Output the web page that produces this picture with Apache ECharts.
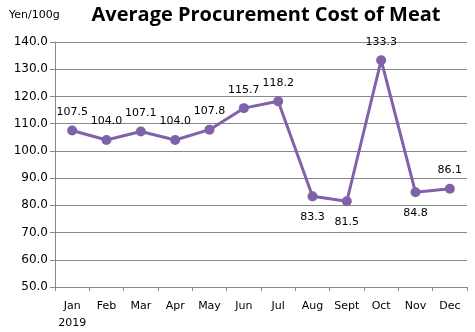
<!DOCTYPE html>
<html><head><meta charset="utf-8">
<script src="https://cdn.jsdelivr.net/npm/echarts@6/dist/echarts.min.js"></script>
<style>html,body{margin:0;padding:0;background:#fff}#c{width:475px;height:332px}</style>
</head><body><div id="c"></div>
<script>
const categories = ['Jan\n2019','Feb','Mar','Apr','May','Jun','Jul','Aug','Sept','Oct','Nov','Dec'];
const values = [107.5,104.0,107.1,104.0,107.8,115.7,118.2,83.3,81.5,133.3,84.8,86.1];
const labelBelow = [false,false,false,false,false,false,false,true,true,false,true,false];
const titleText = 'Average Procurement Cost of Meat';
const unitText = 'Yen/100g';

const chart = echarts.init(document.getElementById('c'));
const font = '"DejaVu Sans", sans-serif';
chart.setOption({
  animation:false,
  title:[
    {text:titleText,left:261,textAlign:'center',top:0,textStyle:{fontFamily:'"Open Sans", sans-serif',fontWeight:'bold',fontSize:20,color:'#000'}},
    {text:unitText,left:4,top:5,textStyle:{fontFamily:font,fontWeight:'normal',fontSize:11,color:'#000'}}
  ],
  grid:{left:55,right:8,top:42,bottom:40},
  xAxis:{type:'category',data:categories,boundaryGap:true,
    axisLine:{lineStyle:{color:'#888'}},
    axisTick:{show:true,length:4,interval:0,lineStyle:{color:'#888'}},
    axisLabel:{interval:0,color:'#000',fontFamily:font,fontSize:11,margin:11,lineHeight:17}},
  yAxis:{type:'value',min:50,max:140,interval:10,
    axisLine:{show:true,lineStyle:{color:'#888'}},
    axisTick:{show:true,length:5,lineStyle:{color:'#888'}},
    splitLine:{lineStyle:{color:'#888'}},
    axisLabel:{color:'#000',fontFamily:font,fontSize:12,margin:7,formatter:v=>v.toFixed(1)}},
  series:[{type:'line',
    data:values.map((v,i)=>({value:v,label:{position:labelBelow[i]?'bottom':'top',distance:labelBelow[i]?10:8}})),
    symbol:'circle',symbolSize:10,
    lineStyle:{color:'#7F62A7',width:3},
    itemStyle:{color:'#7F62A7'},
    label:{show:true,color:'#000',fontFamily:font,fontSize:11,formatter:p=>p.value.toFixed(1)}
  }]
});
</script></body></html>
